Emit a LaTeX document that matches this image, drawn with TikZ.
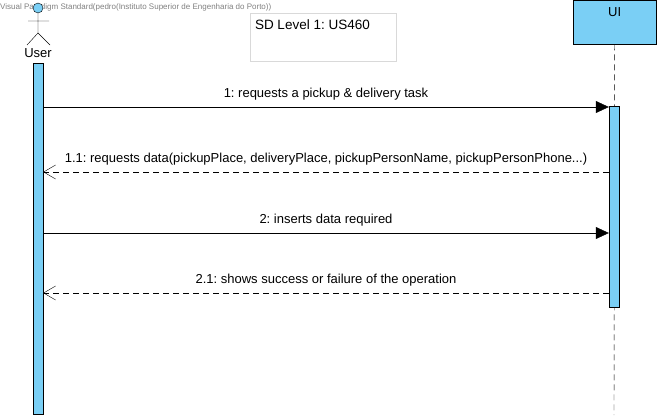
\documentclass[tikz,border=0pt]{standalone}
\usepackage{fontspec}
\setmainfont{Liberation Sans}
\usepackage{xcolor}
\usetikzlibrary{arrows.meta,positioning,calc}
\definecolor{lifeblue}{RGB}{122,207,245}
\frenchspacing
\begin{document}
\begin{tikzpicture}[
  x=1pt, y=-1pt,
  font=\fontsize{13}{15}\selectfont,
  actbar/.style={draw, fill=lifeblue, minimum width=10pt, inner sep=0pt},
  headbox/.style={draw, fill=lifeblue, minimum width=83pt, minimum height=44pt, inner sep=0pt},
  msg/.style={-{Triangle[length=13pt,width=12pt]}},
  reply/.style={dashed, dash pattern=on 6pt off 4pt, -{Straight Barb[length=12pt,width=14pt]}},
  lbl/.style={inner sep=1pt}
]
\useasboundingbox (0,0) rectangle (661,420);
% watermark
\node[anchor=west, inner sep=0pt, text=gray, font=\fontsize{8}{9}\selectfont] (mark) at (0,7)
  {Visual Paradigm Standard(pedro(Instituto Superior de Engenharia do Porto))};
% title frame
\node[draw=gray!30, fill=white, minimum width=146pt, minimum height=48pt, inner sep=0pt] (frame) at (323,37) {};
\node[anchor=north west, inner sep=0pt, font=\fontsize{13.5}{15}\selectfont] (title) at ($(frame.north west)+(5,7)$) {SD Level 1: US460};
% actor
\draw (38,13) -- (38,33) (28,21) -- (49,21) (27,45) -- (38,33) -- (50,45);
\node[draw, fill=lifeblue, circle, minimum size=10pt, inner sep=0pt] (head) at (38,8) {};
\node[inner sep=0pt] (user) at (38,53) {User};
% UI lifeline
\node[headbox, anchor=north west] (ui) at (573,0) {};
\node[anchor=north, inner sep=0pt] (uilabel) at ($(ui.north)+(0,7)$) {UI};
\coordinate (uiend) at (614,415);
\draw[dashed, dash pattern=on 6pt off 4pt] (ui.south) -- (uiend);
% activation bars
\node[actbar, anchor=north, minimum height=351pt] (userbar) at (38,63) {};
\node[actbar, anchor=north, minimum height=201pt] (uibar) at (614,106) {};
% messages
\coordinate (m1) at (0,107);
\coordinate (m11) at (0,172);
\coordinate (m2) at (0,233);
\coordinate (m21) at (0,293);
\draw[msg] (userbar.east |- m1) -- (uibar.west |- m1)
  node[lbl, midway, above=6pt] (t1) {1: requests a pickup \& delivery task};
\draw[reply] (uibar.west |- m11) -- (userbar.east |- m11)
  node[lbl, midway, above=6pt] (t11) {1.1: requests data(pickupPlace, deliveryPlace, pickupPersonName, pickupPersonPhone...)};
\draw[msg] (userbar.east |- m2) -- (uibar.west |- m2)
  node[lbl, midway, above=6pt] (t2) {2: inserts data required};
\draw[reply] (uibar.west |- m21) -- (userbar.east |- m21)
  node[lbl, midway, above=6pt] (t21) {2.1: shows success or failure of the operation};
\end{tikzpicture}
\end{document}
